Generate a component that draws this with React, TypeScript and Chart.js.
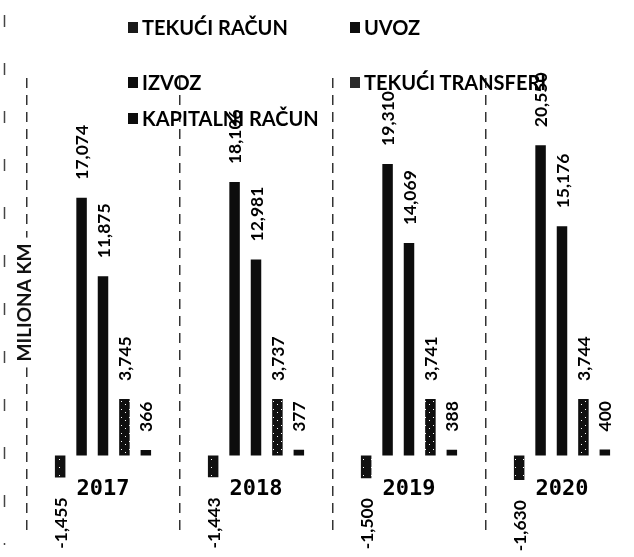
import React, { useEffect, useRef } from "react";
import { Chart, registerables } from "chart.js";

Chart.register(...registerables);

// ---- data ----
const categories = ["2017", "2018", "2019", "2020"];
const seriesNames = ["TEKUĆI RAČUN", "UVOZ", "IZVOZ", "TEKUĆI TRANSFERI", "KAPITALNI RAČUN"];
const tekuciRacun = [-1455, -1443, -1500, -1630];
const uvoz = [17074, 18106, 19310, 20550];
const izvoz = [11875, 12981, 14069, 15176];
const tekuciTransferi = [3745, 3737, 3741, 3744];
const kapitalniRacun = [366, 377, 388, 400];
const axisTitle = "MILIONA KM";
const yMin = -5000;
const yMax = 25000;

const CANVAS_W = 645;
const CANVAS_H = 557;

function speckle(base: string, dots: [number, number][], size: number): CanvasPattern | string {
  const c = document.createElement("canvas");
  c.width = size;
  c.height = size;
  const g = c.getContext("2d");
  if (!g) return base;
  g.fillStyle = base;
  g.fillRect(0, 0, size, size);
  g.fillStyle = "#ffffff";
  dots.forEach(([x, y]) => g.fillRect(x, y, 1, 1));
  return g.createPattern(c, "repeat") || base;
}

const valueLabels = {
  id: "valueLabels",
  afterDatasetsDraw(chart: any) {
    const ctx = chart.ctx as CanvasRenderingContext2D;
    ctx.save();
    ctx.font = "bold 17.5px Lato";
    ctx.fillStyle = "#000";
    ctx.textBaseline = "middle";
    chart.data.datasets.forEach((ds: any, di: number) => {
      const meta = chart.getDatasetMeta(di);
      meta.data.forEach((el: any, i: number) => {
        const v = ds.data[i] as number;
        const text = v.toLocaleString("en-US");
        ctx.save();
        ctx.translate(el.x + 1, el.y + (v >= 0 ? -18 : 20));
        ctx.rotate(-Math.PI / 2);
        ctx.textAlign = v >= 0 ? "left" : "right";
        ctx.fillText(text, 0, 0);
        ctx.restore();
      });
    });
    ctx.restore();
  },
};

const decorations = {
  id: "decorations",
  afterDraw(chart: any) {
    const ctx = chart.ctx as CanvasRenderingContext2D;
    const area = chart.chartArea;
    // faint outer frame line on the left
    ctx.save();
    ctx.strokeStyle = "#444";
    ctx.lineWidth = 1.5;
    ctx.setLineDash([12, 36]);
    ctx.beginPath();
    ctx.moveTo(4.5, 15);
    ctx.lineTo(4.5, 545);
    ctx.stroke();
    ctx.restore();
    // axis title inside the plot area, over the first grid line
    ctx.save();
    ctx.font = "bold 19px Lato";
    const w = ctx.measureText(axisTitle).width;
    ctx.translate(area.left - 3, (area.top + area.bottom) / 2 - 2);
    ctx.rotate(-Math.PI / 2);
    ctx.fillStyle = "#fff";
    ctx.fillRect(-w / 2 - 6, -10, w + 12, 20);
    ctx.fillStyle = "#111";
    ctx.textAlign = "center";
    ctx.textBaseline = "middle";
    ctx.fillText(axisTitle, 0, 1);
    ctx.restore();
  },
};

export default function App() {
  const ref = useRef<HTMLCanvasElement>(null);

  useEffect(() => {
    const canvas = ref.current;
    if (!canvas) return;
    const solid = "#0d0d0d";
    const colors = [
      speckle("#111111", [[3, 3]], 8),
      solid,
      solid,
      speckle("#0f0f0f", [[1, 1], [5, 4]], 8),
      solid,
    ];
    const values = [tekuciRacun, uvoz, izvoz, tekuciTransferi, kapitalniRacun];
    const chart = new Chart(canvas, {
      type: "bar",
      data: {
        labels: categories,
        datasets: seriesNames.map((name, i) => ({
          label: name,
          data: values[i],
          backgroundColor: colors[i] as any,
          borderWidth: 0,
          categoryPercentage: 0.7,
          barPercentage: 0.49,
        })),
      },
      options: {
        responsive: false,
        animation: false,
        devicePixelRatio: 1,
        layout: {
          padding: { left: 26.5, top: 78, right: CANVAS_W - 638.5, bottom: CANVAS_H - 531 },
        },
        plugins: {
          legend: { display: false },
          tooltip: { enabled: false },
        },
        scales: {
          x: {
            position: { y: 0 } as any,
            grid: { offset: true, color: "#333333", lineWidth: 1.5, drawTicks: false },
            border: { display: false, dash: [10, 7] },
            ticks: {
              padding: 21,
              color: "#000",
              font: { family: "DejaVu Sans Mono", size: 22, weight: "bold" },
            },
          },
          y: { display: false, min: yMin, max: yMax },
        },
      },
      plugins: [valueLabels, decorations],
    });
    return () => chart.destroy();
  }, []);

  const rowY = [27, 82, 118];
  const colX = [128, 350];
  const legendColors = ["#1a1a1a", "#0d0d0d", "#0d0d0d", "#2a2a2a", "#0d0d0d"];

  return (
    <div
      style={{
        position: "fixed",
        left: 0,
        top: 0,
        width: 634,
        height: 557,
        overflow: "hidden",
        background: "#fff",
      }}
    >
      <canvas ref={ref} width={CANVAS_W} height={CANVAS_H} style={{ position: "absolute", left: 0, top: 0 }} />
      {seriesNames.map((name, i) => (
        <div
          key={name}
          style={{
            position: "absolute",
            left: colX[i % 2],
            top: rowY[Math.floor(i / 2)] - 13,
            height: 26,
            display: "flex",
            alignItems: "center",
            fontFamily: "Lato",
            fontWeight: 700,
            fontSize: 20,
            color: "#000",
            whiteSpace: "nowrap",
          }}
        >
          <span
            style={{
              display: "inline-block",
              width: 10,
              height: 11,
              background: legendColors[i],
              marginRight: 4,
            }}
          />
          {name}
        </div>
      ))}
    </div>
  );
}
